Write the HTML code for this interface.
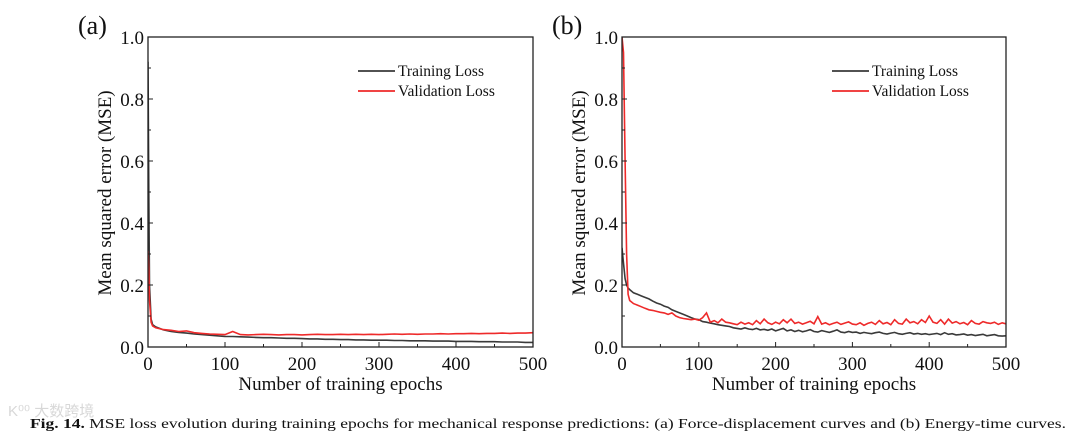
<!DOCTYPE html>
<html><head><meta charset="utf-8"><style>
body{margin:0;background:#fff;width:1080px;height:435px;overflow:hidden}
svg{display:block}
text{font-family:"Liberation Serif",serif;fill:#111}
</style></head><body>
<svg id="fig" width="1080" height="435"></svg>
<script>
const epochTicks=[0,100,200,300,400,500];
const mseTicks=[0.0,0.2,0.4,0.6,0.8,1.0];
const mseTickLabels=["0.0","0.2","0.4","0.6","0.8","1.0"];
const seriesNames=["Training Loss","Validation Loss"];
// panel (a)
const aEarlyEpochs=[0,1,2,4,6];
const aTrainEarly=[.92,.5,.2,.09,.072];
const aValEarly=[.31,.25,.15,.08,.068];
const aStep=10;
const aTrain=[.065,.055,.05,.047,.045,.042,.04,.038,.036,.034,.034,.033,.032,.031,.03,.03,.029,.028,.028,.027,.026,.026,.025,.025,.024,.024,.023,.023,.022,.022,.022,.021,.021,.02,.02,.02,.019,.019,.019,.018,.018,.018,.017,.017,.017,.016,.016,.016,.015,.015];
const aVal=[.062,.056,.054,.05,.052,.046,.044,.042,.041,.04,.05,.04,.039,.04,.041,.04,.039,.04,.04,.039,.04,.041,.04,.04,.041,.04,.041,.04,.041,.04,.041,.042,.041,.042,.041,.042,.042,.043,.042,.043,.043,.044,.043,.044,.044,.045,.044,.045,.045,.046];
// panel (b)
const bEarlyEpochs=[0,2,4,6,8];
const bTrainEarly=[.32,.27,.22,.2,.19];
const bValEarly=[1.0,.95,.6,.3,.17];
const bStep=5;
const bTrain=[.185,.175,.17,.165,.16,.155,.148,.142,.138,.132,.128,.12,.115,.11,.105,.1,.095,.09,.088,
.082,.08,.077,.075,.072,.07,.068,.066,.062,.06,.058,.062,.058,.056,.06,.055,.057,.054,.058,.052,
.056,.06,.052,.055,.05,.054,.049,.052,.056,.05,.048,.053,.05,.047,.051,.055,.048,.046,.05,.047,
.048,.044,.047,.045,.043,.046,.048,.044,.042,.045,.047,.043,.041,.044,.046,.042,.044,.041,.043,.04,
.042,.044,.04,.046,.041,.043,.039,.04,.042,.038,.04,.037,.039,.041,.036,.038,.04,.036,.035,.036];
const bVal=[.15,.14,.135,.13,.125,.12,.118,.115,.112,.11,.105,.11,.1,.095,.092,.09,.088,.09,.086,
.095,.11,.08,.085,.078,.09,.08,.078,.075,.072,.08,.074,.078,.072,.085,.075,.09,.078,.073,.08,
.075,.088,.078,.09,.076,.08,.074,.078,.083,.075,.098,.074,.078,.072,.076,.08,.073,.077,.081,.074,
.072,.078,.07,.076,.08,.073,.085,.075,.079,.072,.088,.076,.074,.09,.078,.082,.075,.088,.079,.1,
.08,.076,.088,.074,.09,.077,.082,.075,.079,.072,.085,.076,.074,.082,.078,.076,.08,.073,.078,.075];

const NS="http://www.w3.org/2000/svg";
const svg=document.getElementById('fig');
function mk(tag,attrs,parent){const e=document.createElementNS(NS,tag);for(const k in attrs)e.setAttribute(k,attrs[k]);(parent||svg).appendChild(e);return e;}
function series(early,earlyE,vals,step){const pts=[];early.forEach((v,i)=>pts.push([earlyE[i],v]));vals.forEach((v,i)=>pts.push([10+i*step,v]));return pts;}

function panel(L,R,T,B,label,labX,train,val,id){
  const g=mk('g',{});
  
  
  const xs=e=>L+(e/500)*(R-L), ys=v=>B-(v/1)*(B-T);
  const pl=mk('text',{x:labX,y:34,'font-size':26},g);pl.textContent=label;
  
  const clip=mk('clipPath',{id:'c'+id},g);mk('rect',{x:L,y:T,width:R-L,height:B-T},clip);
  const lg=mk('g',{'clip-path':'url(#c'+id+')'},g);
  [[train,'#3a3a3a','training-loss-line'],[val,'#ee2a2a','validation-loss-line']].forEach(([d,c,n])=>{
    const p=mk('polyline',{points:d.map(q=>xs(q[0]).toFixed(1)+','+ys(q[1]).toFixed(1)).join(' '),fill:'none',stroke:c,'stroke-width':1.6},lg);
    
  });
  const fr=mk('rect',{x:L,y:T,width:R-L,height:B-T,fill:'none',stroke:'#222','stroke-width':1.3},g);
  
  for(let e=0;e<=500;e+=50){mk('line',{x1:xs(e),x2:xs(e),y1:B,y2:B-(e%100?3:5),stroke:'#222','stroke-width':1},g);}
  for(let v=0;v<=10;v++){mk('line',{x1:L,x2:L+(v%2?3:5),y1:ys(v/10),y2:ys(v/10),stroke:'#222','stroke-width':1},g);}
  epochTicks.forEach(e=>{const t=mk('text',{x:xs(e),y:B+23,'font-size':19,'text-anchor':'middle'},g);t.textContent=e;
    });
  mseTicks.forEach((v,i)=>{const t=mk('text',{x:L-4,y:ys(v)+7,'font-size':19,'text-anchor':'end'},g);t.textContent=mseTickLabels[i];
    });
  const xt=mk('text',{x:(L+R)/2,y:B+43,'font-size':19,'text-anchor':'middle'},g);xt.textContent='Number of training epochs';
  
  const yt=mk('text',{x:0,y:0,'font-size':19,'text-anchor':'middle',transform:`translate(${L-37},${(T+B)/2+1}) rotate(-90)`},g);yt.textContent='Mean squared error (MSE)';
  
  [['#3a3a3a',71],['#ee2a2a',91]].forEach(([c,y],i)=>{
    const le=mk('g',{},g);
    mk('line',{x1:L+210,x2:L+247,y1:y,y2:y,stroke:c,'stroke-width':1.8},le);
    const t=mk('text',{x:L+250,y:y+5,'font-size':15.5},le);t.textContent=seriesNames[i];
  });
}
panel(148,533,37,347,'(a)',78,series(aTrainEarly,aEarlyEpochs,aTrain,aStep),series(aValEarly,aEarlyEpochs,aVal,aStep),'panel-a');
panel(622,1006,37,347,'(b)',552,series(bTrainEarly,bEarlyEpochs,bTrain,bStep),series(bValEarly,bEarlyEpochs,bVal,bStep),'panel-b');

const wm=mk('text',{x:8,y:416,'font-size':15,style:'font-family:"Liberation Sans","Noto Sans CJK SC",sans-serif;fill:#d8d8d8'});wm.textContent='K⁰⁰ 大数跨境';

const cap=mk('text',{x:30,y:428,'font-size':14,textLength:1036,lengthAdjust:'spacingAndGlyphs'});

const b=mk('tspan',{'font-weight':'bold'},cap);b.textContent='Fig. 14.';
const r=mk('tspan',{},cap);r.textContent=' MSE loss evolution during training epochs for mechanical response predictions: (a) Force-displacement curves and (b) Energy-time curves.';
</script>
</body></html>
